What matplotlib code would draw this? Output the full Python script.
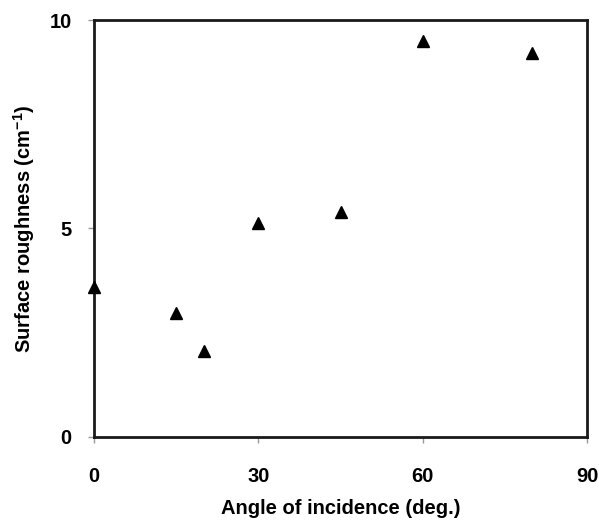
import matplotlib
matplotlib.use("Agg")
import matplotlib.pyplot as plt

# angle of incidence (deg.) and surface roughness (cm^-1)
angle = [0, 15, 20, 30, 45, 60, 80]
roughness = [3.6, 2.97, 2.07, 5.13, 5.4, 9.5, 9.2]

xticks = [0, 30, 60, 90]
yticks = [0, 5, 10]

plt.rcParams['font.family'] = ['Liberation Sans', 'DejaVu Sans']
plt.rcParams['font.weight'] = 'bold'
plt.rcParams['mathtext.fontset'] = 'custom'
plt.rcParams['mathtext.rm'] = 'Liberation Sans'

fig = plt.figure(figsize=(5.99, 5.27), dpi=100)
ax = fig.add_axes([0.157, 0.171, 0.823, 0.791])

ax.plot(angle, roughness, linestyle='none', marker='^', color='black',
        markersize=9, clip_on=False, zorder=5)

ax.set_xlim(0, 90)
ax.set_ylim(0, 10)
ax.set_xticks(xticks)
ax.set_yticks(yticks)
ax.set_xticklabels([str(t) for t in xticks], fontsize=14.5, fontweight='heavy')
ax.set_yticklabels([str(t) for t in yticks], fontsize=14.5, fontweight='heavy')

for s in ax.spines.values():
    s.set_linewidth(2.0)
    s.set_color('#1a1a1a')

ax.tick_params(axis='both', direction='out', length=4, width=1, color='#999999')
ax.tick_params(axis='x', pad=18)
ax.tick_params(axis='y', pad=12)

ax.set_xlabel('Angle of incidence (deg.)', fontsize=14.5, fontweight='heavy', labelpad=9)
ax.set_ylabel('Surface roughness (cm$^{\\mathrm{-1}}$)', fontsize=14.5, fontweight='heavy', labelpad=9)

fig.savefig('out.png', dpi=100)
